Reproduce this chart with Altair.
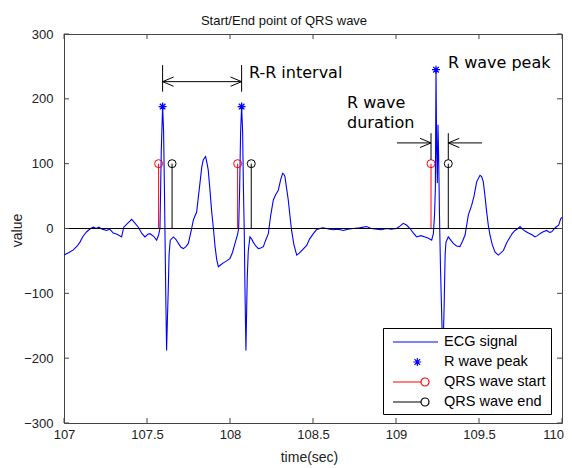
import altair as alt
import pandas as pd

# ---------------- data ----------------
time_s = [107.000, 107.030, 107.056, 107.080, 107.096, 107.115, 107.137, 107.160, 107.177, 107.195,
          107.210, 107.230, 107.257, 107.275, 107.297, 107.320, 107.347, 107.360, 107.380, 107.408,
          107.425, 107.448, 107.470, 107.488, 107.505, 107.518, 107.540, 107.558, 107.570, 107.578,
          107.586, 107.594, 107.600, 107.605, 107.610, 107.614, 107.618, 107.623, 107.628, 107.633,
          107.640, 107.659, 107.675, 107.689, 107.705, 107.719, 107.735, 107.749, 107.765, 107.779,
          107.790, 107.799, 107.810, 107.819, 107.830, 107.839, 107.853, 107.862, 107.869, 107.879,
          107.889, 107.900, 107.910, 107.920, 107.930, 107.945, 107.960, 107.980, 108.000, 108.015,
          108.030, 108.045, 108.052, 108.058, 108.064, 108.070, 108.076, 108.081, 108.086, 108.090,
          108.096, 108.100, 108.104, 108.110, 108.120, 108.130, 108.140, 108.155, 108.171, 108.185,
          108.201, 108.215, 108.231, 108.245, 108.261, 108.275, 108.291, 108.305, 108.317, 108.324,
          108.331, 108.341, 108.351, 108.361, 108.371, 108.385, 108.402, 108.417, 108.432, 108.462,
          108.480, 108.502, 108.520, 108.542, 108.560, 108.582, 108.600, 108.622, 108.650, 108.683,
          108.710, 108.743, 108.780, 108.823, 108.850, 108.884, 108.910, 108.944, 108.970, 109.004,
          109.025, 109.044, 109.065, 109.084, 109.105, 109.124, 109.150, 109.175, 109.195, 109.215,
          109.225, 109.232, 109.237, 109.241, 109.245, 109.249, 109.253, 109.257, 109.262, 109.268,
          109.275, 109.282, 109.290, 109.296, 109.301, 109.315, 109.330, 109.345, 109.365, 109.385,
          109.400, 109.416, 109.436, 109.456, 109.470, 109.486, 109.506, 109.516, 109.526, 109.536,
          109.546, 109.556, 109.566, 109.580, 109.596, 109.616, 109.630, 109.647, 109.667, 109.687,
          109.700, 109.717, 109.735, 109.747, 109.762, 109.777, 109.792, 109.807, 109.822, 109.837,
          109.852, 109.867, 109.887, 109.908, 109.925, 109.938, 109.955, 109.968, 109.980, 109.992,
          110.000]
ecg = [-41, -37, -33, -27, -21, -12, -5, 0, 2, 0,
       2, -1, -3, -1, -7, -9, -13, 2, 7, 14,
       9, 2, -8, -13, -9, -8, -12, -18, -10, 0,
       120, 188, 150, 60, -40, -120, -188, -140, -95, -40,
       -18, -13, -17, -23, -29, -31, -28, -23, -5, 13,
       20, 25, 50, 70, 95, 106, 111, 100, 90, 60,
       28, 0, -28, -48, -59, -56, -53, -50, -46, -37,
       -23, -10, 0, 60, 150, 188, 150, 60, -5, -90,
       -188, -130, -75, -35, -13, -16, -21, -27, -31, -30,
       -28, -18, -8, 20, 44, 52, 59, 75, 85, 84,
       80, 62, 44, 20, -3, -25, -41, -38, -34, -26,
       -16, -8, -2, 0, 1, 0, -1, -2, -1, -3,
       -1, 0, 1, 3, 0, -1, -2, 0, -1, 0,
       4, 8, 5, 0, -7, -13, -11, -13, -15, -18,
       -8, 20, 60, 245, 120, 70, 160, 110, 20, -60,
       -130, -200, -120, -40, -21, -13, -18, -23, -27, -28,
       -20, -10, 21, 36, 50, 72, 82, 80, 72, 50,
       26, 5, -10, -25, -36, -41, -38, -34, -22, -13,
       -8, -3, 0, 3, -1, -4, -6, -8, -10, -13,
       -11, -8, -5, -3, -6, -5, 0, 3, 5, 15,
       17]

peak_t = [107.594, 108.070, 109.241]
peak_v = [188, 188, 245]
qrs_start_t = [107.570, 108.046, 109.211]
qrs_end_t = [107.651, 108.128, 109.315]
qrs_level = [100, 100, 100]

x_ticks = [107, 107.5, 108, 108.5, 109, 109.5, 110]
y_ticks = [-300, -200, -100, 0, 100, 200, 300]

# annotation segments (data units)
seg_t1 = [107.594, 108.070, 107.594, 109.211, 109.315, 109.006, 109.518]
seg_v1 = [211, 211, 226.5, 106, 106, 132, 132]
seg_t2 = [107.594, 108.070, 108.070, 109.211, 109.315, 109.211, 109.315]
seg_v2 = [252, 252, 226.5, 147, 147, 132, 132]
head_left_t = [107.594, 109.315]
head_left_v = [226.5, 132]
head_right_t = [108.070, 109.211]
head_right_v = [226.5, 132]

note_text = ["R-R interval", "R wave peak", "R wave", "duration"]
note_t = [108.114, 109.313, 108.705, 108.705]
note_v = [240, 255, 193, 162]

legend_labels = ["ECG signal", "R wave peak", "QRS wave start", "QRS wave end"]
legend_colors = ["#0000ff", "#0000ff", "#ff0000", "#000000"]

# ---------------- shapes ----------------
ASTERISK = "M -1 0 L 1 0 M 0 -1 L 0 1 M -0.7 -0.7 L 0.7 0.7 M -0.7 0.7 L 0.7 -0.7"
HEAD_LEFT = "M 0 0 L 1 -0.42 M 0 0 L 1 0.42"
HEAD_RIGHT = "M 0 0 L -1 -0.42 M 0 0 L -1 0.42"
LEG_LINE = "M -2.25 0 L 3.375 0"
LEG_STAR = "M 0.29 0 L 1.29 0 M 0.79 -0.5 L 0.79 0.5 M 0.44 -0.35 L 1.14 0.35 M 0.44 0.35 L 1.14 -0.35"
LEG_STEM = "M -2.25 0 L 1.25 0 M 2.25 0 A 0.5 0.5 0 1 1 1.25 0 A 0.5 0.5 0 1 1 2.25 0"

FONT = "Liberation Sans, Arial, sans-serif"
FRAME = "#444444"

xs = alt.Scale(domain=[107, 110], nice=False, zero=False)
ys = alt.Scale(domain=[-300, 300], nice=False, zero=False)
x_axis = alt.Axis(values=x_ticks, format="~g", title="time(sec)", labelPadding=5,
                  labelOffset={"condition": {"test": "datum.value >= 110", "value": -9}, "value": 0},
                  titleX=245, titleY=34, titleBaseline="middle", titleAlign="center")
y_axis = alt.Axis(values=y_ticks, format="d", title="value", labelPadding=11,
                  titleX=-47, titleY=196, titleBaseline="middle", titleAlign="center")


def X(f):
    return alt.X(f, type="quantitative", scale=xs, axis=x_axis)


def Y(f):
    return alt.Y(f, type="quantitative", scale=ys, axis=y_axis)


ecg_df = pd.DataFrame({"t": time_s, "v": ecg})
peaks_df = pd.DataFrame({"t": peak_t, "v": peak_v})
start_df = pd.DataFrame({"t": qrs_start_t, "v": qrs_level})
end_df = pd.DataFrame({"t": qrs_end_t, "v": qrs_level})
seg_df = pd.DataFrame({"t1": seg_t1, "v1": seg_v1, "t2": seg_t2, "v2": seg_v2})
hl_df = pd.DataFrame({"t": head_left_t, "v": head_left_v})
hr_df = pd.DataFrame({"t": head_right_t, "v": head_right_v})
note_df = pd.DataFrame({"t": note_t, "v": note_v, "label": note_text})
xt_df = pd.DataFrame({"tick": x_ticks})
yt_df = pd.DataFrame({"tick": y_ticks})
leg_df = pd.DataFrame({"series": legend_labels, "t": [None] * 4, "v": [None] * 4})

line = alt.Chart(ecg_df).mark_line(color="#0000ff", strokeWidth=1.1).encode(x=X("t"), y=Y("v"))

baseline = alt.Chart(pd.DataFrame({"v": [0]})).mark_rule(color="black", strokeWidth=1).encode(y=Y("v"))

start_stem = alt.Chart(start_df).mark_rule(color="#ff0000", strokeWidth=1).encode(
    x=X("t"), y=Y("v"), y2=alt.datum(0))
end_stem = alt.Chart(end_df).mark_rule(color="black", strokeWidth=1).encode(
    x=X("t"), y=Y("v"), y2=alt.datum(0))
start_pt = alt.Chart(start_df).mark_point(shape="circle", filled=False, size=64, color="#ff0000",
                                          strokeWidth=1, opacity=1).encode(x=X("t"), y=Y("v"))
end_pt = alt.Chart(end_df).mark_point(shape="circle", filled=False, size=64, color="black",
                                      strokeWidth=1, opacity=1).encode(x=X("t"), y=Y("v"))
peak_pt = alt.Chart(peaks_df).mark_point(shape=ASTERISK, filled=False, size=64, color="#0000ff",
                                         strokeWidth=1.3, opacity=1).encode(x=X("t"), y=Y("v"))

segs = alt.Chart(seg_df).mark_rule(color="black", strokeWidth=1).encode(
    x=X("t1"), y=Y("v1"), x2="t2", y2="v2")
heads_l = alt.Chart(hl_df).mark_point(shape=HEAD_LEFT, filled=False, size=484, color="black",
                                      strokeWidth=1, opacity=1).encode(x=X("t"), y=Y("v"))
heads_r = alt.Chart(hr_df).mark_point(shape=HEAD_RIGHT, filled=False, size=484, color="black",
                                      strokeWidth=1, opacity=1).encode(x=X("t"), y=Y("v"))
notes = alt.Chart(note_df).mark_text(align="left", baseline="middle", font="DejaVu Sans",
                                     fontSize=16, color="black").encode(x=X("t"), y=Y("v"), text="label")

tick_bottom = alt.Chart(xt_df).mark_rule(color=FRAME).encode(x=X("tick"), y=alt.value(389), y2=alt.value(384))
tick_top = alt.Chart(xt_df).mark_rule(color=FRAME).encode(x=X("tick"), y=alt.value(0), y2=alt.value(5))
tick_left = alt.Chart(yt_df).mark_rule(color=FRAME).encode(y=Y("tick"), x=alt.value(0), x2=alt.value(5))
tick_right = alt.Chart(yt_df).mark_rule(color=FRAME).encode(y=Y("tick"), x=alt.value(498), x2=alt.value(493))

leg = alt.Legend(title=None, orient="none", legendX=319, legendY=294, direction="vertical",
                 padding=5, fillColor="white", strokeColor="black", symbolSize=256,
                 symbolStrokeWidth=1.2, symbolOffset=14, labelOffset=24, rowPadding=4,
                 labelFont=FONT, labelFontSize=14.5, labelColor="black", labelLimit=400)
legend_layer = alt.Chart(leg_df).mark_point(filled=False, size=256, strokeWidth=1, opacity=1).encode(
    x=X("t"), y=Y("v"),
    color=alt.Color("series:N", scale=alt.Scale(domain=legend_labels, range=legend_colors), legend=leg),
    shape=alt.Shape("series:N", scale=alt.Scale(domain=legend_labels,
                                                range=[LEG_LINE, LEG_STAR, LEG_STEM, LEG_STEM]), legend=leg),
)

chart = alt.layer(
    line, baseline, start_stem, end_stem, start_pt, end_pt, peak_pt,
    segs, heads_l, heads_r, notes,
    tick_bottom, tick_top, tick_left, tick_right, legend_layer,
).properties(
    width=498, height=389,
    title=alt.TitleParams("Start/End point of QRS wave", font=FONT, fontSize=13,
                          fontWeight="normal", color="#111111", anchor="middle", dx=-29, offset=0,
                          frame="group"),
    autosize=alt.AutoSizeParams(type="none"),
    padding={"left": 56, "top": 26, "right": 2, "bottom": 44},
).configure_view(
    stroke=FRAME, strokeWidth=1
).configure_axis(
    domain=False, ticks=False, grid=False, labelOverlap=False, labelFlush=False,
    labelFont=FONT, labelFontSize=13, labelColor="#222222",
    titleFont=FONT, titleFontSize=14, titleFontWeight="normal", titleColor="#222222",
)

chart.save("out.html", embed_options={"renderer": "svg", "actions": False})
